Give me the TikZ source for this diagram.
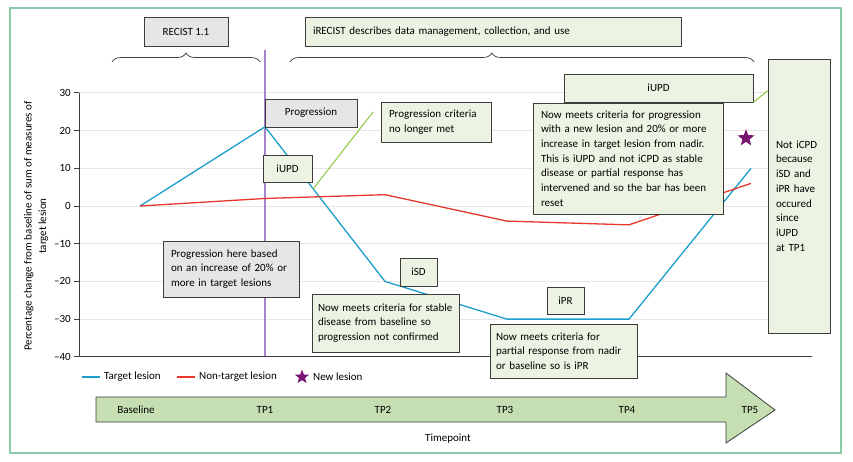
\documentclass[tikz,border=0pt]{standalone}
\usepackage{fontspec}
\setmainfont{Carlito}
\usetikzlibrary{shapes.geometric,decorations.pathreplacing}
\definecolor{boxgreen}{HTML}{EDF3E3}
\definecolor{boxgrey}{HTML}{E6E6E7}
\definecolor{boxline}{HTML}{3C3C3C}
\definecolor{arrowgreen}{HTML}{C6DFB2}
\definecolor{calloutgreen}{HTML}{8CC63F}
\definecolor{targetblue}{HTML}{1A9ECB}
\definecolor{nontargetred}{HTML}{E8372C}
\definecolor{tpurple}{HTML}{A584CC}
\definecolor{starpurple}{HTML}{7A1474}
\definecolor{framegreen}{HTML}{8CCBA8}
\definecolor{gridgrey}{HTML}{E6E6E6}
\begin{document}
\begin{tikzpicture}[x=1pt,y=-1pt,font=\fontsize{11}{14.7}\selectfont,
    g node/.style={draw=boxline,fill=boxgreen,line width=0.8pt,inner xsep=8pt,inner ysep=2pt,align=left},
    q node/.style={draw=boxline,fill=boxgrey,line width=0.8pt,inner xsep=8pt,inner ysep=2pt,align=left},
    tp label/.style={font=\fontsize{11}{12}\selectfont},
    callout/.style={calloutgreen,line width=1pt},
    brace/.style={decorate,decoration={brace,amplitude=9pt},line width=0.7pt,boxline}]

    \useasboundingbox (0,0) rectangle (853,461);
    \draw[framegreen,line width=1.2pt] (10,8) rectangle (841,453);

    % top labels and braces
    \node[q node,minimum width=84pt,minimum height=29pt,align=center] (recist) at (186,31.5) {RECIST 1.1};
    \node[g node,text width=360pt,minimum height=29pt] (irecist) at (493,31.5) {iRECIST describes data management, collection, and use};
    \draw[brace] (112,62) -- (260,62);
    \draw[brace,decoration={aspect=0.435}] (290,62) -- (754,62);

    % chart
    \begin{scope}[yshift=-206pt,y=3.771pt]
        \foreach \v in {-30,-20,...,30}
            \draw[gridgrey,line width=0.8pt] (79,\v) -- (812,\v);
        \foreach \v/\t in {30/30,20/20,10/10,0/0,-10/{–10},-20/{–20},-30/{–30},-40/{–40}} {
            \draw[boxline,line width=0.8pt] (74,\v) -- (79,\v);
            \node[anchor=east,inner sep=1pt] (tk\v) at (72,\v) {\t};
        }
        \draw[tpurple,line width=1.4pt] (265,41.5) -- (265,-40);
        \draw[boxline,line width=0.8pt] (79,30) -- (79,-40) -- (812,-40);
        \draw[targetblue,line width=1.3pt] (140,0) -- (265,21) -- (385,-20) -- (507,-30) -- (629,-30) -- (751,10);
        \draw[nontargetred,line width=1.3pt] (140,0) -- (265,2) -- (385,3) -- (507,-4) -- (629,-5) -- (751,6);
        \node[star,star points=5,star point ratio=2.4,fill=starpurple,minimum size=18pt,inner sep=0pt] (newlesion) at (746,18) {};
    \end{scope}
    \node[rotate=90,align=center] (ytitle) at (36,226) {Percentage change from baseline of sum of measures of\\target lesion};

    % callouts
    \coordinate (cl1a) at (313,189);
    \coordinate (cl1b) at (373,112);
    \draw[callout] (cl1a) -- (cl1b);

    \node[q node,minimum width=92pt,minimum height=28pt,align=center] (prog) at (311,113) {Progression};
    \node[g node,minimum width=49pt,minimum height=27pt,align=center] (iupd1) at (287.5,168.5) {iUPD};
    \node[g node,text width=94pt,minimum height=40pt] (nolonger) at (436,122) {Progression criteria\\no longer met};
    \node[q node,text width=120pt,minimum height=56pt] (based) at (231,269) {Progression here based\\on an increase of 20\% or\\more in target lesions};
    \node[g node,minimum width=37pt,minimum height=28pt,align=center] (isd) at (418.5,272) {iSD};
    \node[g node,inner xsep=6pt,text width=135pt,minimum height=58pt] (stable) at (385.5,323) {Now meets criteria for stable\\disease from baseline so\\progression not confirmed};
    \node[g node,minimum width=37pt,minimum height=27pt,align=center] (ipr) at (565.5,300.5) {iPR};
    \node[g node,inner xsep=6pt,text width=135pt,minimum height=54pt] (partial) at (563.5,351) {Now meets criteria for\\partial response from nadir\\or baseline so is iPR};
    \node[g node,minimum width=189pt,minimum height=28pt,align=center] (iupd2) at (658.5,88) {iUPD};
    \node[g node,text width=174pt,minimum height=111pt] (reset) at (628,158.5) {Now meets criteria for progression\\with a new lesion and 20\% or more\\increase in target lesion from nadir.\\This is iUPD and not iCPD as stable\\disease or partial response has\\intervened and so the bar has been\\reset};
    \node[g node,text width=46pt,minimum height=274pt] (noticpd) at (799,196) {Not iCPD\\because\\iSD and\\iPR have\\occured\\since\\iUPD\\at TP1};
    \draw[callout] (iupd2.south east) -- ([yshift=-32pt]noticpd.north west);

    % legend
    \draw[targetblue,line width=1.3pt] (82,377) -- (100,377);
    \node[anchor=west,inner sep=0pt] (lgtarget) at (104,377) {Target lesion};
    \draw[nontargetred,line width=1.3pt] (177,377) -- (195,377);
    \node[anchor=west,inner sep=0pt] (lgnontarget) at (199,377) {Non-target lesion};
    \node[star,star points=5,star point ratio=2.4,fill=starpurple,minimum size=15pt,inner sep=0pt] (lgstar) at (302,377) {};
    \node[anchor=west,inner sep=0pt] (lgnew) at (313,377) {New lesion};

    % timeline
    \draw[boxline,fill=arrowgreen,line width=0.8pt] (96,397) -- (726,397) -- (726,373) -- (775,410) -- (726,443) -- (726,422) -- (96,422) -- cycle;
    \node[tp label] (tpbase) at (136,410) {Baseline};
    \node[tp label] (tp1) at (265,410) {TP1};
    \node[tp label] (tp2) at (383,410) {TP2};
    \node[tp label] (tp3) at (505,410) {TP3};
    \node[tp label] (tp4) at (627,410) {TP4};
    \node[tp label] (tp5) at (750,410) {TP5};
    \node (timepoint) at (448,439) {Timepoint};
\end{tikzpicture}
\end{document}
